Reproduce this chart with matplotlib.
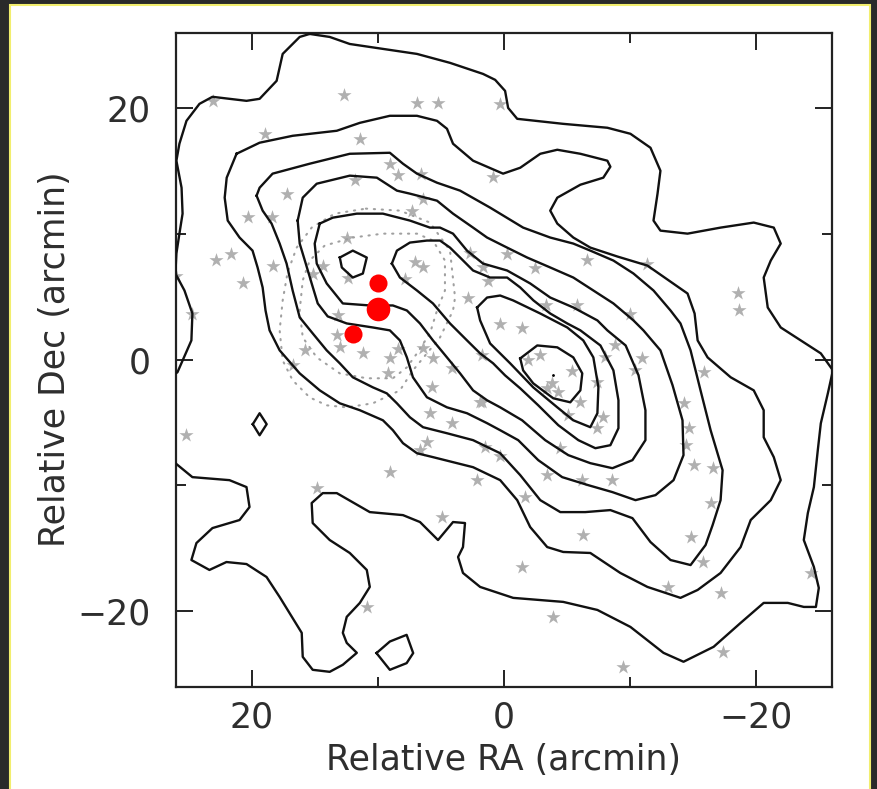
import numpy as np
import matplotlib.pyplot as plt
from matplotlib.patches import Rectangle
from matplotlib.ticker import MultipleLocator

# contour lines, (RA, Dec) in arcmin, outermost level first
level1 = [(15.40, 25.90), (13.81, 25.66), (12.22, 25.10), (9.59, 24.71), (6.89, 24.31),
          (4.27, 23.60), (1.65, 22.72), (0.69, 22.25), (-0.10, 21.37), (-0.34, 20.02),
          (-1.06, 19.15), (-4.71, 18.75), (-8.21, 18.44), (-10.04, 17.96), (-11.63, 16.85),
          (-12.42, 15.02), (-12.19, 13.20), (-11.87, 11.06), (-12.42, 10.26), (-14.57, 10.02),
          (-17.19, 10.50), (-19.82, 10.90), (-21.41, 10.50), (-21.96, 9.23), (-21.17, 7.88),
          (-20.61, 6.53), (-20.93, 4.15), (-21.96, 2.56), (-23.55, 1.53), (-25.14, 0.50),
          (-26.10, -0.85), (-25.70, -2.67), (-25.14, -5.06), (-24.90, -7.20), (-24.59, -10.13),
          (-24.11, -12.20), (-23.79, -14.34), (-24.59, -16.48), (-24.98, -18.15), (-24.75, -19.66),
          (-23.79, -19.66), (-22.52, -19.34), (-20.61, -19.34), (-18.78, -20.93), (-16.64, -22.83),
          (-14.25, -24.02), (-12.66, -23.31), (-10.04, -21.25), (-7.42, -19.90), (-4.71, -19.26),
          (-0.74, -18.94), (1.88, -18.07), (3.24, -16.96), (3.63, -15.69), (3.24, -14.90),
          (3.08, -12.99), (4.03, -12.91), (5.22, -14.34), (6.65, -12.91), (8.00, -12.36),
          (10.63, -12.12), (13.25, -10.61), (14.36, -10.61), (15.24, -11.40), (15.16, -12.99),
          (13.81, -14.34), (12.22, -15.37), (10.87, -16.72), (10.63, -18.07), (11.42, -19.34),
          (12.46, -20.45), (12.77, -21.72), (12.46, -22.52), (11.66, -23.31), (12.77, -24.26),
          (13.81, -24.82), (15.16, -24.66), (15.95, -23.63), (16.03, -21.72), (17.78, -18.87),
          (18.82, -17.28), (20.41, -16.25), (22.00, -16.09), (23.35, -16.72), (24.78, -15.93),
          (24.38, -14.58), (23.11, -13.39), (20.96, -12.75), (20.17, -11.72), (20.41, -10.13),
          (21.76, -9.58), (24.70, -9.34), (26.05, -8.23), (27.00, -6.40), (27.00, -1.60),
          (25.89, -1.01), (24.78, 1.53), (24.70, 3.67), (25.33, 5.50), (26.05, 6.85),
          (25.97, 8.44), (25.73, 10.02), (25.48, 11.61), (25.56, 13.67), (25.97, 15.82),
          (25.73, 17.17), (25.17, 18.99), (24.14, 20.34), (23.11, 20.90), (20.41, 20.58),
          (19.37, 20.74), (18.02, 22.17), (17.54, 24.31), (16.19, 25.66)]
island_diamond = [(19.91, -5.13), (19.37, -4.26), (18.81, -5.13), (19.37, -6.01)]
island_south = [(10.10, -23.33), (9.04, -22.41), (7.71, -21.88), (7.19, -23.33),
                (7.71, -24.13), (9.04, -24.66)]
level2 = [(21.20, 16.37), (19.37, 17.25), (16.75, 17.80), (13.25, 18.20), (11.42, 18.83),
          (9.04, 19.39), (6.89, 19.39), (5.30, 18.99), (4.51, 18.36), (4.03, 17.17),
          (2.44, 15.82), (0.06, 14.79), (-1.30, 15.26), (-2.89, 16.37), (-4.24, 16.69),
          (-6.07, 16.37), (-8.21, 15.82), (-8.45, 15.34), (-7.89, 14.47), (-6.07, 13.91),
          (-4.24, 12.88), (-3.68, 11.85), (-4.24, 10.82), (-5.51, 9.71), (-6.86, 8.91),
          (-9.01, 8.20), (-11.39, 7.48), (-14.57, 5.26), (-15.13, 3.67), (-15.37, 1.53),
          (-16.16, 0.18), (-17.99, -1.40), (-19.82, -2.44), (-20.61, -4.02), (-20.61, -6.17),
          (-21.41, -7.75), (-21.96, -9.58), (-21.17, -11.17), (-19.58, -12.75), (-18.78, -14.90),
          (-17.19, -16.96), (-15.37, -18.31), (-14.01, -18.94), (-11.39, -18.07), (-9.24, -16.96),
          (-6.86, -15.37), (-4.71, -15.29), (-3.44, -14.90), (-2.09, -13.31), (-1.06, -11.17),
          (0.29, -9.58), (2.44, -8.55), (5.62, -7.75), (6.89, -7.44), (8.00, -6.64),
          (8.80, -5.61), (9.59, -4.82), (11.42, -4.02), (13.01, -3.47), (14.60, -2.44),
          (16.19, -1.09), (17.78, 0.74), (18.58, 2.33), (18.90, 3.91), (19.13, 5.74),
          (19.53, 7.33), (19.93, 8.67), (20.96, 9.71), (21.90, 11.06), (22.14, 12.88),
          (21.98, 14.47)]
level3 = [(19.61, 13.04), (19.37, 13.67), (18.34, 14.79), (15.40, 15.58), (12.22, 16.37),
          (9.04, 16.45), (8.00, 15.58), (6.89, 14.79), (5.30, 14.07), (3.47, 13.44),
          (1.09, 12.09), (-1.53, 10.50), (-3.68, 9.71), (-5.51, 9.23), (-6.86, 8.67),
          (-8.69, 7.88), (-10.28, 6.85), (-11.87, 5.50), (-13.22, 3.91), (-14.01, 2.88),
          (-14.81, 0.74), (-15.60, -2.44), (-16.40, -5.61), (-17.35, -8.79), (-17.19, -11.17),
          (-16.56, -13.15), (-16.00, -14.74), (-14.81, -16.33), (-13.22, -15.93), (-11.63, -14.50),
          (-10.20, -12.60), (-8.45, -11.96), (-6.46, -12.12), (-4.48, -12.12), (-2.89, -11.17),
          (-1.30, -9.18), (0.29, -7.44), (2.44, -6.40), (4.51, -5.85), (6.41, -5.37),
          (7.45, -4.58), (8.48, -3.47), (9.28, -2.68), (10.39, -2.20), (11.98, -1.40),
          (13.01, -0.29), (14.05, 0.74), (15.16, 2.09), (16.19, 3.36), (16.75, 5.50),
          (17.23, 7.64), (17.78, 9.23), (18.42, 10.82), (19.13, 11.85)]
level4 = [(16.35, 11.06), (15.95, 12.88), (14.84, 13.99), (12.22, 14.63), (10.07, 14.47),
          (8.48, 13.44), (7.45, 13.20), (5.30, 12.64), (4.03, 11.61), (2.44, 10.50),
          (1.33, 9.71), (-0.26, 8.91), (-1.85, 8.12), (-3.68, 7.33), (-5.51, 6.53),
          (-7.10, 5.50), (-8.69, 4.47), (-10.28, 3.12), (-11.07, 2.33), (-12.42, 0.74),
          (-13.38, -2.03), (-14.17, -4.82), (-14.25, -7.59), (-13.46, -9.58), (-12.03, -10.77),
          (-10.44, -11.17), (-8.61, -10.53), (-6.70, -9.98), (-4.63, -9.34), (-2.73, -7.99),
          (-1.14, -6.40), (0.29, -5.61), (1.33, -5.05), (2.92, -4.26), (4.51, -3.79),
          (6.10, -2.99), (7.21, -1.40), (7.69, 0.18), (8.24, 1.53), (9.04, 2.33),
          (10.39, 2.56), (12.46, 2.88), (13.97, 3.44), (14.76, 4.47), (15.24, 6.06),
          (15.71, 7.64), (16.19, 9.23)]
level5 = [(14.60, 10.82), (13.57, 11.29), (11.66, 11.61), (9.59, 11.61), (7.45, 11.06),
          (5.86, 10.50), (5.06, 10.50), (4.03, 10.02), (2.92, 8.67), (1.65, 7.64),
          (-0.26, 7.09), (-2.09, 6.06), (-3.68, 4.94), (-5.51, 4.15), (-7.42, 3.12),
          (-8.21, 2.33), (-9.66, 1.13), (-10.68, -1.24), (-11.23, -4.02), (-11.23, -6.40),
          (-10.20, -7.99), (-8.61, -8.63), (-6.86, -8.23), (-5.11, -7.59), (-3.28, -6.40),
          (-1.45, -4.82), (0.29, -3.79), (1.33, -3.23), (2.44, -2.44), (3.47, -1.09),
          (4.51, 0.18), (5.62, 1.53), (6.65, 2.88), (7.69, 3.91), (8.80, 4.31),
          (10.63, 4.31), (12.77, 4.47), (14.05, 6.06), (14.84, 7.64), (15.00, 9.23)]
level6 = [(8.88, 7.64), (8.48, 8.67), (7.45, 9.31), (6.10, 9.47), (5.06, 9.47),
          (4.27, 8.91), (3.47, 8.12), (2.44, 7.09), (1.09, 6.53), (-0.26, 6.53),
          (-1.30, 5.74), (-2.35, 4.71), (-3.68, 3.67), (-5.03, 2.88), (-6.07, 2.33),
          (-7.66, 1.13), (-8.69, -0.85), (-9.09, -3.23), (-9.09, -5.45), (-8.45, -6.80),
          (-7.26, -7.04), (-5.91, -6.40), (-4.32, -5.21), (-2.73, -3.63), (-1.30, -2.28),
          (-0.10, -1.25), (0.85, -0.29), (1.88, 0.50), (2.92, 1.53), (4.27, 2.88),
          (5.62, 4.47), (6.89, 5.50), (8.24, 6.53)]
island_level6 = [(13.01, 8.12), (11.98, 8.67), (10.87, 8.12), (11.18, 6.85),
                 (11.98, 6.53), (12.85, 7.33)]
level7 = [(2.12, 4.15), (1.33, 4.94), (0.29, 5.10), (-0.74, 4.71), (-2.89, 3.67),
          (-5.03, 2.56), (-6.30, 1.53), (-7.10, 0.18), (-7.50, -2.20), (-7.42, -4.26),
          (-6.86, -5.37), (-5.51, -4.82), (-4.24, -3.79), (-2.33, -2.20), (-0.50, -0.29),
          (1.09, 1.29), (1.88, 3.12)]
level8 = [(-1.30, 0.10), (-2.65, 1.13), (-4.24, 0.98), (-5.51, 0.18), (-6.22, -1.09),
          (-6.07, -2.44), (-5.27, -3.39), (-3.92, -3.07), (-2.33, -1.88), (-1.53, -0.85)]
peak_ra, peak_dec = [-3.92], [-1.25]

# dotted (second map) contours
dotted_outer = [(10.94, 12.01), (8.24, 11.85), (5.86, 10.90), (4.27, 8.67), (3.87, 4.94),
                (4.03, 3.91), (5.06, 1.77), (6.10, 0.50), (7.21, -0.85), (8.24, -2.44),
                (10.39, -3.47), (12.46, -3.79), (14.05, -3.63), (15.40, -3.00), (16.75, -1.64),
                (17.54, -0.06), (17.78, 2.33), (17.54, 4.71), (17.15, 6.93), (16.43, 8.91),
                (15.24, 10.50), (13.41, 11.61)]
dotted_inner = [(11.98, 9.71), (9.59, 10.02), (6.89, 10.02), (5.62, 9.47), (4.67, 7.88),
                (4.67, 5.50), (5.30, 3.91), (5.86, 2.09), (6.89, 0.50), (7.69, -0.61),
                (8.80, -1.48), (10.87, -1.48), (13.01, -1.09), (14.84, 0.18), (15.95, 1.77),
                (16.19, 3.91), (15.95, 6.30), (15.40, 7.88), (14.21, 9.07)]

# member galaxies (grey stars)
star_ra = [23.09, 12.70, 6.89, 5.22, 0.29, 18.97, 11.42, 9.04, 8.40, 6.57,
           11.82, 17.23, 20.33, 18.42, 7.29, 6.41, 0.85, 22.79, 21.60, 18.34,
           20.71, 25.97, 24.70, 12.46, 15.16, 14.36, 7.05, 6.41, 7.85, 12.38,
           2.68, 1.65, 1.25, 2.84, -0.26, -2.49, -6.62, -11.39, -18.55, -18.63,
           -3.36, -5.83, -10.04, 0.29, -1.45, 13.17, 13.25, 13.01, 15.80, 16.75,
           11.18, 9.04, 8.40, 9.20, 6.41, 5.62, 4.11, 5.70, 5.86, 4.11,
           6.10, 6.65, 1.88, 1.49, 2.12, 0.29, 9.04, 14.84, 25.17, 4.90,
           10.87, -2.89, -1.93, -5.43, -3.84, -4.32, -3.44, -6.07, -5.11, -7.89,
           -7.42, -7.42, -8.85, -8.05, -10.99, -10.44, -4.48, -3.44, -6.22, -8.61,
           -1.69, -15.84, -14.25, -14.65, -14.43, -15.05, -16.56, -16.40, -6.30, -14.81,
           -15.76, -12.99, -17.19, -1.45, -3.92, -17.35, -9.42, -24.35, 1.72, 1.72]
star_dec = [20.58, 21.06, 20.42, 20.42, 20.34, 17.96, 17.56, 15.58, 14.71, 14.79,
            14.31, 13.20, 11.37, 11.37, 11.85, 12.80, 14.55, 7.96, 8.44, 7.48,
            6.06, 6.69, 3.67, 9.71, 6.85, 7.48, 7.80, 7.40, 6.45, 6.53,
            8.52, 7.33, 6.29, 4.94, 8.44, 7.25, 7.96, 7.64, 5.34, 3.91,
            4.31, 4.31, 3.67, 2.80, 2.48, 3.52, 1.93, 0.98, 0.74, -0.45,
            0.50, 0.10, 0.82, -1.09, 0.90, 0.10, -0.69, -2.20, -4.26, -5.05,
            -6.56, -7.20, -3.39, -6.96, -9.58, -7.67, -8.94, -10.21, -6.01, -12.52,
            -19.66, 0.34, -0.06, -0.93, -1.88, -2.59, -2.28, -3.39, -4.42, -4.58,
            -5.45, -1.80, 1.13, 0.18, 0.10, -0.85, -7.04, -9.18, -9.58, -9.58,
            -10.93, -1.01, -3.47, -5.45, -6.80, -8.39, -8.63, -11.41, -13.94, -14.10,
            -16.09, -18.07, -18.55, -16.48, -20.45, -23.23, -24.42, -16.96, 0.34, -3.39]

# red markers
red_ra = [9.99, 9.99, 11.98]
red_dec = [6.06, 3.99, 2.01]
red_ms = [13, 17, 13]

solid_contours = [level1, island_diamond, island_south, level2, level3, level4,
                  level5, level6, island_level6, level7, level8]
dotted_contours = [dotted_outer, dotted_inner]

plt.rcParams['font.family'] = ['DejaVu Sans']
txt = '#2e2e2e'

fig = plt.figure(figsize=(8.77, 7.89), dpi=100, facecolor='#2a2a2a')
fig.add_artist(Rectangle((10 / 877, -0.02), 860 / 877, 1.02 - 5 / 789,
                         transform=fig.transFigure, facecolor='white',
                         edgecolor='#f2ee6e', lw=1.5, zorder=0))

ax = fig.add_axes([0.2007, 0.1297, 0.7476, 0.8289])

ax.scatter(star_ra, star_dec, marker='*', s=115, color='#b0b0b0', lw=0, zorder=1)

for c in dotted_contours:
    pts = np.array(c + c[:1])
    ax.plot(pts[:, 0], pts[:, 1], color='#a0a0a0', lw=1.5,
            linestyle=(0, (0.6, 3.2)), dash_capstyle='round', zorder=2)

for c in solid_contours:
    pts = np.array(c + c[:1])
    ax.plot(pts[:, 0], pts[:, 1], color='#111111', lw=1.7, zorder=3)
ax.plot(peak_ra, peak_dec, 'k.', ms=2, zorder=3)

for r, d, m in zip(red_ra, red_dec, red_ms):
    ax.plot(r, d, 'o', color='#ff0000', ms=m, mew=0, zorder=4)

ax.set_xlim(26, -26)
ax.set_ylim(-26, 26)
ax.xaxis.set_major_locator(MultipleLocator(20))
ax.xaxis.set_minor_locator(MultipleLocator(10))
ax.yaxis.set_major_locator(MultipleLocator(20))
ax.yaxis.set_minor_locator(MultipleLocator(10))
ax.tick_params(which='both', direction='in', top=True, right=True, width=1.4,
               color='#222222', labelcolor=txt)
ax.tick_params(which='major', length=12, labelsize=25)
ax.tick_params(which='minor', length=7)
ax.tick_params(axis='x', which='major', pad=10)
ax.tick_params(axis='y', which='major', pad=18)
for s in ax.spines.values():
    s.set_linewidth(1.6)
    s.set_color('#222222')

ax.set_xlabel('Relative RA (arcmin)', fontsize=25, labelpad=6, color=txt)
ax.set_ylabel('Relative Dec (arcmin)', fontsize=25, labelpad=4, color=txt)

fig.savefig('out.png', dpi=100, facecolor=fig.get_facecolor())
